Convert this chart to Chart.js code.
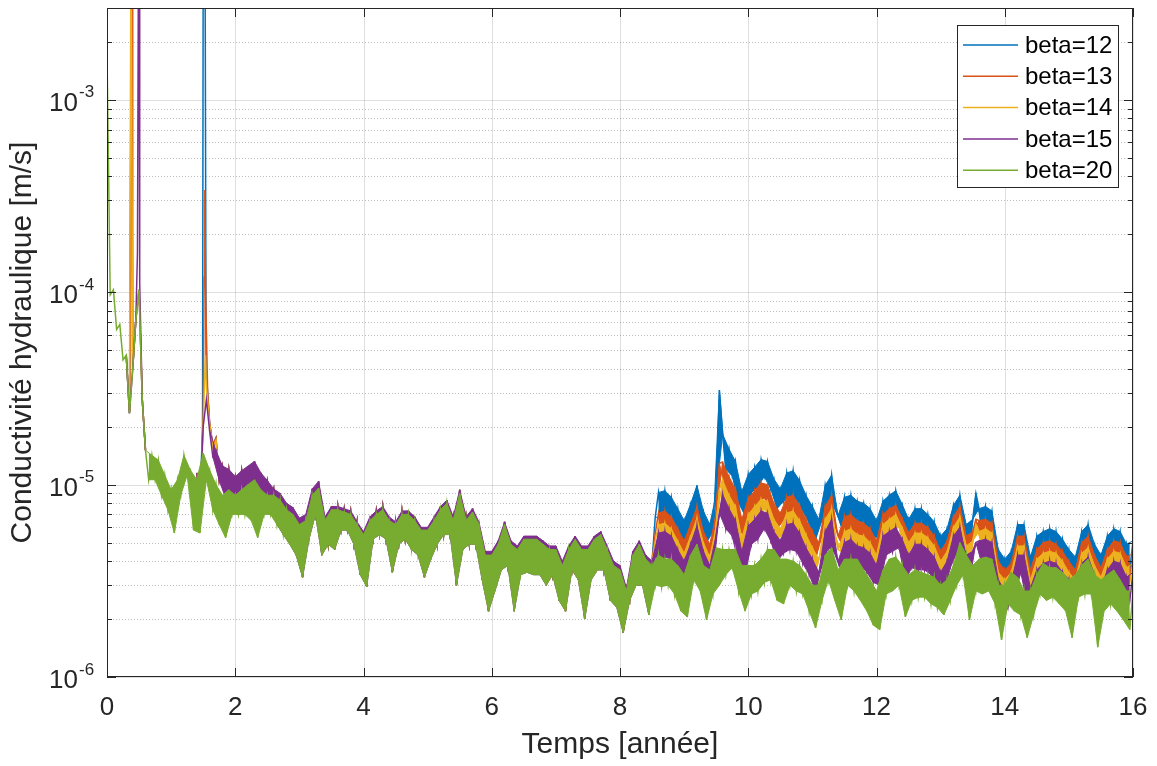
<!DOCTYPE html>
<html lang="fr">
<head>
<meta charset="utf-8">
<title>Conductivité hydraulique</title>
<script src="https://cdn.jsdelivr.net/npm/chart.js@4.4.0/dist/chart.umd.min.js"></script>
<style>
  html, body { margin: 0; padding: 0; background: #fff; }
  #wrap { width: 1157px; height: 766px; }
</style>
</head>
<body>
<div id="wrap"><canvas id="chart" width="1157" height="766"></canvas></div>
<script>
// values are in units of 1e-6 m/s
const seriesNames = ['beta=12', 'beta=13', 'beta=14', 'beta=15', 'beta=20'];
const seriesColors = ['#0072BD', '#D95319', '#EDB120', '#7E2F8E', '#77AC30'];

const xTicks = [0, 2, 4, 6, 8, 10, 12, 14, 16];
const yDecades = [1e-6, 1e-5, 1e-4, 1e-3];
const yExponents = ['-6', '-5', '-4', '-3'];

// beta=20, every 0.05 year from 0 to 16 (upper / lower edge of the noise in turn)
const greenK = [
  1714, 97, 103, 64, 68, 44.5, 47, 23.5, 39.5, 72, 103, 27.6, 15.1, 10.6, 14.2, 10.6, 13.4, 8.8, 11.2, 7.4,
  9.4, 5.6, 10.6, 8.8, 14.2, 11.2, 11.9, 5.8, 10.6, 5.6, 14.6, 10.6, 11.9, 7.4, 10, 6.2, 8.8, 5.3, 9.4, 7.0,
  8.8, 7.0, 9.4, 7.0, 10, 6.5, 10.6, 5.3, 9.4, 7.0, 8.8, 7.0, 8.8, 6.2, 8.3, 5.5, 7.4, 4.9, 7.0, 4.3,
  6.2, 3.3, 6.5, 5.2, 8.8, 7.0, 9.6, 4.3, 6.5, 4.9, 7.4, 4.6, 7.4, 5.8, 7.2, 5.8, 7.0, 4.9, 6.2, 3.4,
  5.5, 2.95, 6.5, 5.2, 7.0, 5.5, 7.4, 5.2, 6.5, 3.5, 6.2, 4.9, 7.0, 5.2, 7.0, 4.6, 6.5, 4.3, 5.8, 3.3,
  5.8, 4.1, 6.5, 4.9, 7.4, 5.5, 8.0, 5.5, 6.5, 3.0, 9.0, 4.6, 6.5, 4.9, 7.2, 4.9, 6.2, 3.2, 4.3, 2.2,
  4.3, 2.8, 4.9, 3.6, 6.2, 3.8, 4.9, 2.2, 4.6, 3.4, 5.2, 3.5, 5.2, 3.4, 5.2, 3.4, 4.9, 3.0, 4.6, 3.4,
  4.6, 2.5, 3.8, 2.2, 4.6, 3.6, 5.2, 3.2, 4.6, 2.0, 4.6, 3.2, 5.2, 3.6, 5.5, 3.6, 4.6, 2.5, 3.8, 2.3,
  3.6, 1.7, 2.8, 2.5, 4.3, 3.0, 4.9, 3.0, 4.1, 2.1, 3.8, 3.0, 4.3, 2.95, 4.1, 3.0, 4.1, 2.7, 3.8, 2.2,
  3.4, 2.05, 4.3, 3.2, 4.9, 2.8, 3.8, 1.98, 3.6, 2.7, 4.7, 3.0, 4.6, 3.4, 4.6, 3.7, 4.6, 2.8, 3.8, 2.2,
  3.8, 2.7, 3.8, 2.8, 4.1, 3.1, 4.6, 3.2, 4.6, 2.5, 4.1, 2.4, 4.1, 3.0, 4.0, 2.8, 3.8, 2.7, 3.4, 2.2,
  3.0, 1.8, 3.0, 2.5, 4.3, 3.2, 4.7, 2.5, 3.6, 1.98, 4.1, 3.0, 4.1, 2.8, 4.1, 2.5, 3.6, 2.2, 3.2, 1.86,
  2.8, 1.76, 3.6, 2.7, 4.1, 2.8, 4.2, 3.0, 3.8, 2.05, 3.4, 2.5, 3.6, 2.6, 3.5, 2.6, 3.4, 2.4, 3.3, 2.3,
  3.0, 2.1, 3.2, 2.5, 3.8, 3.0, 5.0, 3.4, 4.3, 1.98, 3.8, 2.8, 4.1, 2.7, 4.2, 2.8, 4.1, 2.4, 3.0, 1.56,
  3.0, 2.4, 3.5, 2.2, 3.3, 2.1, 2.8, 1.6, 2.8, 2.1, 3.4, 2.7, 3.9, 2.5, 3.7, 2.6, 3.7, 2.4, 3.5, 2.2,
  3.2, 1.6, 3.4, 2.6, 3.8, 2.7, 4.1, 2.7, 3.4, 1.43, 3.2, 2.2, 3.4, 2.4, 3.6, 2.2, 3.2, 1.98, 2.8, 1.76, 2.8
];

// first blow-up, t < 0.6
const yellowHeadT = [0.30, 0.35, 0.372, 0.378, 0.40, 0.45, 0.50, 0.55, 0.60];
const yellowHead = [47, 23.5, 5000, 5000, 39.5, 72, 103, 27.6, 15.1];
const blueHeadT = [0.30, 0.35, 0.382, 0.388, 0.40, 0.45, 0.50, 0.55, 0.60];
const blueHead = [47, 23.5, 5000, 5000, 39.5, 72, 103, 27.6, 15.1];
const orangeHeadT = [0.30, 0.355, 0.39, 0.397, 0.405, 0.45, 0.50, 0.55, 0.60];
const orangeHead = [47, 24, 5000, 5000, 42, 72, 103, 27.6, 15.1];
const purpleHeadT = [0.30, 0.35, 0.40, 0.45, 0.475, 0.49, 0.50, 0.51, 0.55, 0.60];
const purpleHead = [47, 23.5, 39.5, 72, 160, 5000, 5000, 110, 27.6, 15.1];

// second blow-up around t = 1.5
const blueSpikeT = [1.40, 1.45, 1.49, 1.50, 1.53, 1.545, 1.60, 1.65, 1.70];
const blueSpike = [11.5, 8, 20, 5000, 5000, 40, 21, 16, 17.5];
const orangeSpikeT = [1.40, 1.45, 1.50, 1.515, 1.525, 1.54, 1.57, 1.60, 1.65, 1.70];
const orangeSpike = [11.5, 8, 22, 120, 340, 90, 30, 21, 16, 17.5];
const yellowSpikeT = [1.40, 1.45, 1.50, 1.525, 1.535, 1.55, 1.60, 1.65, 1.70];
const yellowSpike = [11.5, 8, 20, 38, 47, 32, 20.5, 15.5, 17];

// beta=15 from 1.40 to 8.50 every 0.05 (the other betas lie under it there)
const purpleMid = [
  11.5, 8, 20, 27.6, 19, 14, 15, 10.5, 12.5, 8.5, 12, 8.8, 11, 8.5, 11.8, 8.5, 12.5, 8, 13.2, 6.5,
  11.5, 8.4, 10.5, 8.2, 9.5, 6.2, 9.0, 5.5, 8.0, 4.9, 7.6, 4.3,
  6.7, 3.3, 7.0, 5.2, 9.5, 7.0, 10.4, 4.3, 6.8, 4.9, 7.7, 4.6, 7.7, 5.8, 7.5, 5.8, 7.3, 4.9, 6.4, 3.4,
  5.7, 2.95, 6.8, 5.2, 7.3, 5.5, 7.7, 5.2, 6.8, 3.5, 6.4, 4.9, 7.3, 5.2, 7.3, 4.6, 6.8, 4.3, 6.0, 3.3,
  6.0, 4.1, 6.8, 4.9, 7.7, 5.5, 8.3, 5.5, 6.8, 3.0, 9.4, 4.6, 6.8, 4.9, 7.5, 4.9, 6.4, 3.2, 4.5, 2.2,
  4.5, 2.8, 5.1, 3.6, 6.4, 3.8, 5.1, 2.2, 4.8, 3.4, 5.4, 3.5, 5.4, 3.4, 5.4, 3.4, 5.1, 3.0, 4.8, 3.4,
  4.8, 2.5, 4.0, 2.2, 4.8, 3.6, 5.4, 3.2, 4.8, 2.0, 4.8, 3.2, 5.4, 3.6, 5.7, 3.6, 4.8, 2.5, 4.0, 2.3,
  3.8, 1.7, 2.9, 2.5, 4.5, 3.0, 5.1, 3.0, 4.3, 2.1, 4.0
];

// from 8.55 to 16.00 every 0.05
const blueTail = [
  6.8, 9.1, 6.6, 9.3, 6.8, 8.6, 6.3, 7.5, 5.2, 6.5, 5.2, 7.9, 6.9, 9.9, 6.6, 7.3, 5.0, 6.2, 5.7, 8.9,
  31, 18.3, 12.0, 15.3, 11.1, 13.2, 8.0, 9.2, 6.9, 11.3, 9.1, 12.3, 9.8, 13.5, 11.0, 13.2, 9.5, 10.7, 7.5, 9.5,
  8.2, 11.5, 8.6, 11.8, 8.4, 10.5, 7.3, 8.8, 6.3, 7.7, 5.2, 6.6, 6.5, 9.9, 8.0, 11.2, 7.5, 6.9, 6.1, 8.6,
  6.5, 8.8, 6.5, 8.2, 6.5, 8.0, 6.0, 7.5, 5.4, 6.5, 5.2, 8.2, 6.6, 8.8, 7.0, 9.3, 7.3, 7.9, 4.9, 6.6,
  5.7, 7.5, 5.6, 7.5, 5.5, 7.0, 5.2, 6.4, 4.4, 5.4, 4.0, 5.9, 5.4, 7.8, 6.5, 8.8, 6.3, 6.2, 4.5, 6.6,
  9.0, 7.5, 5.6, 7.7, 6.0, 7.3, 4.5, 4.6, 3.0, 4.1, 3.4, 4.5, 3.8, 6.2, 5.2, 6.2, 3.6, 4.2, 3.4, 5.4,
  4.5, 5.7, 4.3, 5.9, 4.3, 5.7, 4.2, 5.2, 3.8, 4.6, 3.1, 4.2, 3.9, 5.7, 4.6, 6.2, 4.5, 4.9, 3.1, 4.3,
  3.9, 5.4, 4.3, 5.9, 4.6, 5.7, 4.0, 4.9, 3.6, 5.1
];
const orangeTail = [
  5.6, 7.1, 5.5, 7.3, 5.6, 6.8, 5.2, 5.9, 4.3, 5.1, 4.3, 6.2, 5.7, 7.7, 5.5, 5.7, 4.1, 4.9, 4.7, 7.0,
  12.9, 13.1, 9.1, 11.0, 8.3, 9.5, 6.0, 6.6, 5.2, 8.5, 7.1, 9.3, 7.7, 10.2, 8.6, 10.0, 7.5, 8.0, 5.9, 7.1,
  6.5, 8.6, 6.8, 8.8, 6.6, 7.8, 5.7, 6.6, 5.0, 5.7, 4.1, 5.0, 5.4, 7.7, 6.6, 8.8, 6.2, 5.4, 5.0, 6.8,
  5.4, 7.0, 5.4, 6.5, 5.4, 6.3, 5.0, 5.9, 4.4, 5.1, 4.3, 7.0, 5.9, 7.5, 6.2, 7.8, 6.5, 6.7, 4.4, 5.6,
  5.0, 6.3, 5.0, 6.3, 4.9, 6.0, 4.6, 5.4, 3.9, 4.5, 3.6, 5.1, 4.9, 6.8, 5.9, 7.7, 5.7, 5.4, 4.1, 5.7,
  6.6, 6.5, 5.1, 6.6, 5.5, 6.3, 4.1, 4.0, 2.7, 3.6, 3.0, 3.9, 3.4, 5.4, 4.7, 5.4, 3.2, 3.6, 3.0, 4.6,
  4.1, 5.0, 3.9, 5.1, 3.9, 4.9, 3.8, 4.5, 3.4, 4.0, 2.8, 3.6, 3.5, 5.0, 4.2, 5.4, 4.1, 4.3, 2.8, 3.7,
  3.5, 4.6, 3.9, 5.1, 4.2, 5.0, 3.6, 4.2, 3.3, 4.4
];
const yellowTail = [
  5.1, 6.2, 5.0, 6.3, 5.1, 5.9, 4.7, 5.1, 3.9, 4.4, 3.9, 5.4, 5.2, 6.7, 5.0, 5.0, 3.7, 4.2, 4.3, 6.1,
  9.4, 10.6, 7.7, 8.8, 7.0, 7.7, 5.1, 5.3, 4.4, 7.0, 6.2, 7.7, 6.6, 8.4, 7.5, 8.2, 6.5, 6.6, 5.1, 5.9,
  5.6, 7.1, 5.9, 7.3, 5.7, 6.5, 5.0, 5.5, 4.3, 4.7, 3.5, 4.1, 4.7, 6.6, 5.9, 7.5, 5.5, 4.6, 4.5, 5.7,
  4.7, 5.9, 4.7, 5.5, 4.7, 5.4, 4.4, 5.0, 3.9, 4.3, 3.8, 6.2, 5.5, 6.6, 5.7, 7.0, 6.0, 6.0, 4.1, 5.0,
  4.7, 5.6, 4.6, 5.6, 4.6, 5.3, 4.3, 4.8, 3.6, 4.0, 3.4, 4.5, 4.6, 6.0, 5.5, 6.8, 5.4, 4.8, 3.8, 5.1,
  6.2, 5.7, 4.7, 5.9, 5.1, 5.6, 3.8, 3.5, 2.5, 3.2, 2.8, 3.5, 3.2, 4.8, 4.4, 4.8, 3.0, 3.2, 2.8, 4.1,
  3.8, 4.4, 3.6, 4.5, 3.6, 4.4, 3.5, 4.0, 3.2, 3.5, 2.6, 3.2, 3.3, 4.4, 3.9, 4.7, 3.8, 3.8, 2.6, 3.3,
  3.3, 4.1, 3.6, 4.5, 3.9, 4.4, 3.4, 3.7, 3.1, 3.9
];
const purpleTail = [
  4.2, 5.6, 4.1, 5.7, 4.2, 5.4, 3.9, 4.6, 3.2, 4.0, 3.2, 4.9, 4.3, 6.1, 4.1, 4.5, 3.1, 3.8, 3.5, 5.5,
  7.1, 8.9, 5.9, 7.5, 5.4, 6.5, 3.9, 4.5, 3.4, 6.1, 4.9, 6.6, 5.2, 7.3, 5.9, 7.1, 5.1, 5.7, 4.0, 5.1,
  4.4, 6.2, 4.6, 6.3, 4.5, 5.6, 3.9, 4.7, 3.4, 4.1, 2.8, 3.5, 3.8, 5.7, 4.7, 6.6, 4.4, 4.0, 3.5, 5.0,
  3.8, 5.2, 3.8, 4.8, 3.8, 4.7, 3.5, 4.4, 3.1, 3.8, 3.0, 5.4, 4.3, 5.7, 4.5, 6.0, 4.7, 5.2, 3.2, 4.3,
  3.7, 4.9, 3.6, 4.9, 3.6, 4.6, 3.4, 4.2, 2.9, 3.5, 2.7, 4.0, 3.7, 5.4, 4.4, 6.0, 4.3, 4.3, 3.1, 4.5,
  5.0, 5.1, 3.8, 5.2, 4.1, 5.0, 3.1, 3.2, 2.0, 2.8, 2.3, 3.1, 2.6, 4.3, 3.5, 4.3, 2.4, 2.9, 2.3, 3.6,
  3.1, 3.9, 2.9, 4.0, 2.9, 3.9, 2.9, 3.5, 2.6, 3.2, 2.1, 2.9, 2.7, 3.9, 3.2, 4.2, 3.1, 3.4, 2.1, 2.9,
  2.7, 3.6, 2.9, 4.0, 3.2, 3.9, 2.7, 3.3, 2.5, 3.5
];

const FONT = '"Liberation Sans", Arial, Helvetica, sans-serif';
const INK = '#262626';
const STEP = 0.05;

const timeGrid = (t0, n) => Array.from({ length: n }, (_, i) => +(t0 + i * STEP).toFixed(3));
const toPoints = (ts, vs) => ts.map((t, i) => ({ x: t, y: vs[i] * 1e-6 }));

const tGreen = timeGrid(0, greenK.length);
const tMid = timeGrid(1.40, purpleMid.length);
const tTail = timeGrid(8.55, blueTail.length);
const GAP = [{ x: 1.0, y: null }];

function buildSeries(hT, head, sT, spike, tail) {
  return [
    ...toPoints(hT, head), ...GAP,
    ...toPoints(sT, spike),
    ...toPoints(tMid.slice(7), purpleMid.slice(7)),
    ...toPoints(tTail, tail)
  ];
}

// split an alternating upper/lower record into its two edges
function edges(ts, vs, upperParity) {
  const hi = [], lo = [];
  ts.forEach((t, i) => ((i % 2 === upperParity) ? hi : lo).push({ x: t, y: vs[i] * 1e-6 }));
  return { hi, lo };
}

const dataBlue = buildSeries(blueHeadT, blueHead, blueSpikeT, blueSpike, blueTail);
const dataOrange = buildSeries(orangeHeadT, orangeHead, orangeSpikeT, orangeSpike, orangeTail);
const dataYellow = buildSeries(yellowHeadT, yellowHead, yellowSpikeT, yellowSpike, yellowTail);
const dataPurple = [...toPoints(purpleHeadT, purpleHead), ...GAP, ...toPoints(tMid, purpleMid), ...toPoints(tTail, purpleTail)];
const dataGreen = toPoints(tGreen, greenK);

const bandGreen = edges(tGreen.slice(12), greenK.slice(12), 0);
const purpleMidBand = edges(tMid.slice(4), purpleMid.slice(4), 0);
const purpleTailBand = edges(tTail, purpleTail, 1);
const bandPurple = {
  hi: [...purpleMidBand.hi, ...purpleTailBand.hi],
  lo: [...purpleMidBand.lo, ...purpleTailBand.lo]
};
const bandYellow = edges(tTail, yellowTail, 1);
const bandOrange = edges(tTail, orangeTail, 1);
const bandBlue = edges(tTail, blueTail, 1);

function lineSet(i, data) {
  return {
    label: seriesNames[i],
    data: data,
    borderColor: seriesColors[i],
    backgroundColor: seriesColors[i],
    borderWidth: 1.5,
    pointRadius: 0,
    tension: 0,
    spanGaps: false,
    fill: false
  };
}

// lower edge filled up to the upper edge that follows it
function bandSets(i, band) {
  return [
    {
      label: seriesNames[i] + ' bas',
      data: band.lo,
      borderColor: seriesColors[i],
      backgroundColor: seriesColors[i],
      borderWidth: 1,
      pointRadius: 0,
      tension: 0,
      fill: '+1'
    },
    {
      label: seriesNames[i] + ' haut',
      data: band.hi,
      borderColor: seriesColors[i],
      borderWidth: 1,
      pointRadius: 0,
      tension: 0,
      fill: false
    }
  ];
}

function seg(ctx, x1, y1, x2, y2) {
  ctx.beginPath();
  ctx.moveTo(x1, y1);
  ctx.lineTo(x2, y2);
  ctx.stroke();
}

// grid, box, ticks and legend the way MATLAB draws them
const matlabAxes = {
  id: 'matlabAxes',
  beforeDatasetsDraw(chart) {
    const { ctx, chartArea: a, scales: { x, y } } = chart;
    ctx.save();
    ctx.lineWidth = 1;
    ctx.strokeStyle = 'rgba(38,38,38,0.3)';
    ctx.setLineDash([1, 2]);
    yDecades.forEach(d => {
      for (let m = 2; m <= 9; m++) {
        if (m * d >= y.max) continue;
        const py = Math.round(y.getPixelForValue(m * d)) + 0.5;
        seg(ctx, a.left, py, a.right, py);
      }
    });
    ctx.setLineDash([]);
    ctx.strokeStyle = 'rgba(38,38,38,0.15)';
    yDecades.forEach(d => {
      const py = Math.round(y.getPixelForValue(d)) + 0.5;
      seg(ctx, a.left, py, a.right, py);
    });
    xTicks.forEach(v => {
      const px = Math.round(x.getPixelForValue(v)) + 0.5;
      seg(ctx, px, a.top, px, a.bottom);
    });
    ctx.restore();
  },
  afterDatasetsDraw(chart) {
    const { ctx, chartArea: a, scales: { x, y } } = chart;
    ctx.save();
    ctx.strokeStyle = INK;
    ctx.fillStyle = INK;
    ctx.lineWidth = 1;
    ctx.strokeRect(a.left + 0.5, a.top + 0.5, a.right - a.left - 1, a.bottom - a.top - 1);

    xTicks.forEach(v => {
      const px = Math.round(x.getPixelForValue(v)) + 0.5;
      seg(ctx, px, a.bottom, px, a.bottom - 9);
      seg(ctx, px, a.top, px, a.top + 9);
    });
    yDecades.forEach(d => {
      const py = Math.round(y.getPixelForValue(d)) + 0.5;
      seg(ctx, a.left, py, a.left + 9, py);
      seg(ctx, a.right, py, a.right - 9, py);
      for (let m = 2; m <= 9; m++) {
        if (m * d >= y.max) continue;
        const pm = Math.round(y.getPixelForValue(m * d)) + 0.5;
        seg(ctx, a.left, pm, a.left + 5, pm);
        seg(ctx, a.right, pm, a.right - 5, pm);
      }
    });

    ctx.font = `26px ${FONT}`;
    ctx.textAlign = 'center';
    ctx.textBaseline = 'middle';
    xTicks.forEach(v => ctx.fillText(String(v), x.getPixelForValue(v), a.bottom + 31));

    yDecades.forEach((d, i) => {
      const py = y.getPixelForValue(d);
      ctx.font = `26px ${FONT}`;
      ctx.textAlign = 'right';
      ctx.fillText('10', a.left - 29, py + 4);
      ctx.font = `17px ${FONT}`;
      ctx.textAlign = 'left';
      ctx.fillText(yExponents[i], a.left - 28, py - 7);
    });

    // legend box, upper right
    const lx = 957, ly = 25, lw = 161, lh = 162;
    ctx.fillStyle = '#fff';
    ctx.fillRect(lx, ly, lw, lh);
    ctx.strokeStyle = INK;
    ctx.strokeRect(lx + 0.5, ly + 0.5, lw, lh);
    ctx.font = `24px ${FONT}`;
    ctx.textAlign = 'left';
    ctx.textBaseline = 'middle';
    seriesNames.forEach((name, i) => {
      const ry = ly + 20 + i * 31.3;
      ctx.strokeStyle = seriesColors[i];
      ctx.lineWidth = 1.5;
      seg(ctx, lx + 6, ry, lx + 61, ry);
      ctx.fillStyle = '#000';
      ctx.fillText(name, lx + 68, ry + 1);
    });
    ctx.restore();
  }
};

// first dataset is drawn last, so beta=20 sits on top as in the figure
new Chart(document.getElementById('chart'), {
  type: 'line',
  data: {
    datasets: [
      lineSet(4, dataGreen), ...bandSets(4, bandGreen),
      lineSet(3, dataPurple), ...bandSets(3, bandPurple),
      lineSet(2, dataYellow), ...bandSets(2, bandYellow),
      lineSet(1, dataOrange), ...bandSets(1, bandOrange),
      lineSet(0, dataBlue), ...bandSets(0, bandBlue)
    ]
  },
  options: {
    responsive: false,
    devicePixelRatio: 1,
    animation: false,
    events: [],
    layout: { padding: { top: 8, right: 24, left: 0, bottom: 0 } },
    plugins: { legend: { display: false }, tooltip: { enabled: false } },
    scales: {
      x: {
        type: 'linear',
        min: 0,
        max: 16,
        grid: { display: false },
        border: { display: false },
        ticks: { display: false },
        title: {
          display: true,
          text: 'Temps [année]',
          color: INK,
          font: { family: FONT, size: 30 },
          padding: { top: 0, bottom: 3 }
        },
        afterFit: s => { s.height = 89; }
      },
      y: {
        type: 'logarithmic',
        min: 1e-6,
        max: 3e-3,
        grid: { display: false },
        border: { display: false },
        ticks: { display: false },
        title: {
          display: true,
          text: 'Conductivité hydraulique [m/s]',
          color: INK,
          font: { family: FONT, size: 30 },
          padding: { top: 5, bottom: 0 }
        },
        afterFit: s => { s.width = 107; }
      }
    }
  },
  plugins: [matlabAxes]
});
</script>
</body>
</html>
